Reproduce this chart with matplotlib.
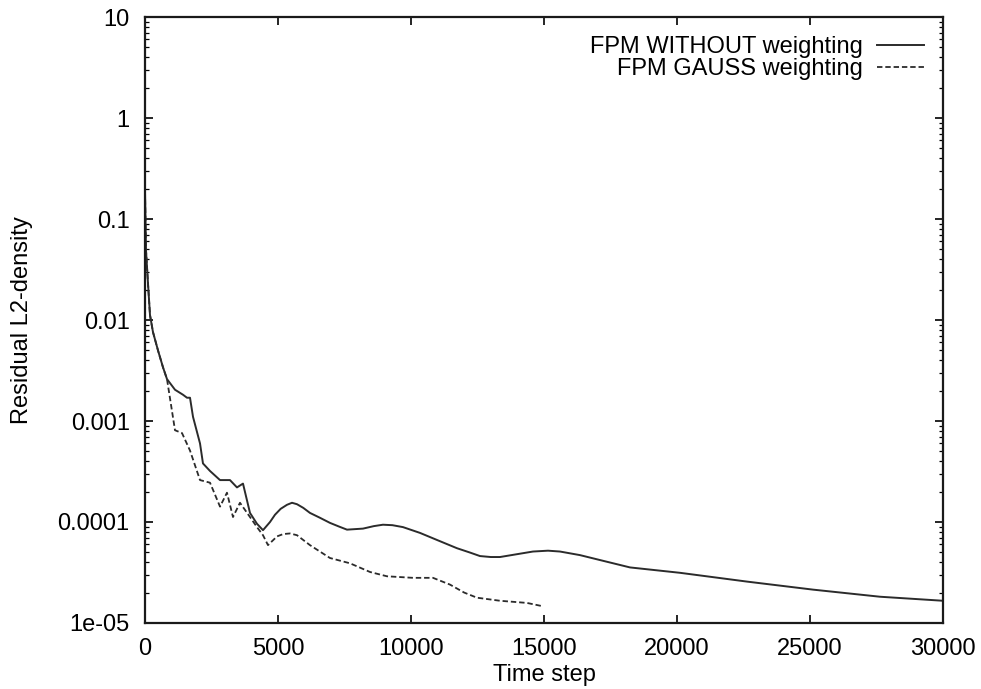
import matplotlib
matplotlib.use("Agg")
import matplotlib.pyplot as plt
from matplotlib.ticker import FixedLocator, FixedFormatter, LogLocator, NullFormatter

plt.rcParams["font.family"] = ["Liberation Sans", "DejaVu Sans"]

# Residual history, FPM without weighting
steps_plain = [0, 38, 113, 188, 300, 489, 677, 827, 1128, 1428, 1579, 1692,
               1805, 2068, 2180, 2444, 2820, 3195, 3458, 3684, 3947, 4210,
               4436, 4700, 4887, 5100, 5338, 5526, 5714, 5950, 6202, 6580,
               6954, 7300, 7593, 8195, 8600, 8946, 9300, 9698, 10337, 11000,
               11728, 12200, 12593, 13000, 13345, 13984, 14585, 15150, 15600,
               16352, 17104, 18232, 20111, 22630, 25110, 27628, 30000]
resid_plain = [0.19, 0.049, 0.023, 0.0112, 0.0076, 0.0050, 0.0034, 0.0026,
               0.00204, 0.00182, 0.0017, 0.0017, 0.0011, 0.0006, 0.00038,
               0.00032, 0.00026, 0.00026, 0.00022, 0.00024, 0.000123,
               0.000096, 0.000083, 0.000100, 0.000118, 0.000135, 0.000148,
               0.000155, 0.000150, 0.000138, 0.000123, 0.000110, 0.000098,
               0.000090, 0.000084, 0.000086, 0.000091, 0.000094, 0.000093,
               0.000089, 0.000078, 0.000066, 0.000055, 0.000050, 0.000046,
               0.000045, 0.000045, 0.000048, 0.000051, 0.000052, 0.000051,
               0.000047, 0.000042, 0.0000355, 0.0000314, 0.0000257,
               0.0000214, 0.0000182, 0.0000166]

# Residual history, FPM with Gauss weighting
steps_gauss = [0, 38, 113, 188, 300, 489, 677, 827, 1128, 1391, 1692, 2068,
               2444, 2820, 3082, 3308, 3571, 3947, 4210, 4436, 4624, 4962,
               5200, 5451, 5714, 6202, 6954, 7706, 8458, 9097, 10074, 10826,
               11465, 12000, 12480, 13345, 14360, 14924]
resid_gauss = [0.19, 0.049, 0.023, 0.0112, 0.0076, 0.0050, 0.0034, 0.0026,
               0.00081, 0.00076, 0.00051, 0.00026, 0.000245, 0.000142,
               0.000195, 0.000112, 0.000155, 0.000112, 0.000089, 0.000074,
               0.000059, 0.000072, 0.000076, 0.000077, 0.000074, 0.000059,
               0.000044, 0.000039, 0.000032, 0.000029, 0.000028, 0.000028,
               0.000024, 0.000020, 0.0000178, 0.0000166, 0.0000158,
               0.0000147]

x_ticks = [0, 5000, 10000, 15000, 20000, 25000, 30000]
x_tick_labels = ["0", "5000", "10000", "15000", "20000", "25000", "30000"]
y_ticks = [1e-5, 1e-4, 1e-3, 1e-2, 1e-1, 1, 10]
y_tick_labels = ["1e-05", "0.0001", "0.001", "0.01", "0.1", "1", "10"]

label_plain = "FPM WITHOUT weighting"
label_gauss = "FPM GAUSS weighting"

fig = plt.figure(figsize=(9.81, 6.89), dpi=100)
ax = fig.add_axes([0.1478, 0.0958, 0.8135, 0.8795])

line_color = "#2b2b2b"
ax.plot(steps_plain, resid_plain, color=line_color, lw=1.4, label=label_plain)
ax.plot(steps_gauss, resid_gauss, color=line_color, lw=1.3,
        linestyle=(0, (3, 1.6)), label=label_gauss)

ax.set_yscale("log")
ax.set_xlim(0, 30000)
ax.set_ylim(1e-5, 10)

ax.xaxis.set_major_locator(FixedLocator(x_ticks))
ax.xaxis.set_major_formatter(FixedFormatter(x_tick_labels))
ax.yaxis.set_major_locator(FixedLocator(y_ticks))
ax.yaxis.set_major_formatter(FixedFormatter(y_tick_labels))
ax.yaxis.set_minor_locator(LogLocator(base=10, subs=range(2, 10), numticks=20))
ax.yaxis.set_minor_formatter(NullFormatter())

fs = 17
ax.tick_params(axis="both", which="both", direction="in", top=True,
               right=True, colors="black", labelsize=fs)
ax.tick_params(axis="both", which="major", length=6, width=1.2)
ax.tick_params(axis="y", which="minor", length=3, width=0.9)
ax.tick_params(axis="x", which="major", pad=11)
ax.tick_params(axis="y", which="major", pad=11)

for side in ("left", "right", "top", "bottom"):
    ax.spines[side].set_linewidth(1.6)
    ax.spines[side].set_color("#1a1a1a")

ax.set_xlabel("Time step", fontsize=fs, labelpad=3)
ax.set_ylabel("Residual L2-density", fontsize=fs)
ax.yaxis.set_label_coords(-0.14, 0.5)

ax.legend(loc="upper right", frameon=False, markerfirst=False, fontsize=fs,
          handlelength=2.0, handletextpad=0.6, labelspacing=0.0,
          borderaxespad=0.5, borderpad=0.3)

fig.savefig("out.png", dpi=100)
